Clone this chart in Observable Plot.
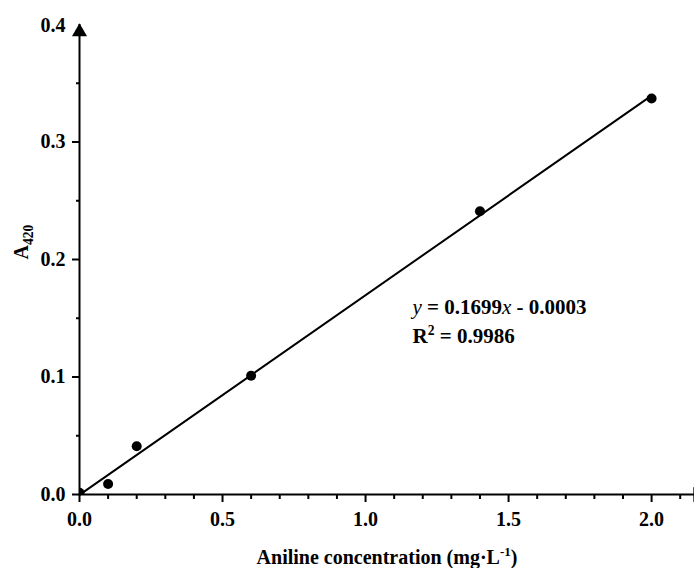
<!DOCTYPE html>
<html><head><meta charset="utf-8">
<script src="https://cdn.jsdelivr.net/npm/d3@7"></script>
<script src="https://cdn.jsdelivr.net/npm/@observablehq/plot@0.6"></script>
<style>body{margin:0;background:#fff}</style>
</head><body><div id="chart"></div>
<script>
// Data
const concentration = [0, 0.1, 0.2, 0.6, 1.4, 2.0];
const absorbance = [0.0015, 0.009, 0.041, 0.101, 0.241, 0.337];
const slope = 0.1699;
const intercept = -0.0003;
const fitRange = [0, 2.0];
const xMajorTicks = [0, 0.5, 1.0, 1.5, 2.0];
const xMinorTicks = [0.1,0.2,0.3,0.4,0.6,0.7,0.8,0.9,1.1,1.2,1.3,1.4,1.6,1.7,1.8,1.9,2.1];
const yMajorTicks = [0, 0.1, 0.2, 0.3];
const yTopTick = [0.4];
const yMinorTicks = [0.05, 0.15, 0.25, 0.35];
const xDomain = [0, 2.15];
const yDomain = [0, 0.4];
const xLabel = "Aniline concentration (mg·L-1)";
const yLabel = "A420";
const eqLine1 = "y = 0.1699x - 0.0003";
const eqLine2 = "R2 = 0.9986";

const points = concentration.map((c, i) => ({x: c, y: absorbance[i]}));
const fit = fitRange.map(x => ({x, y: slope * x + intercept}));

const sw = 2;
const chart = Plot.plot({
  width: 694, height: 568,
  marginLeft: 79, marginRight: 0, marginTop: 24, marginBottom: 74,
  style: {fontFamily: "Liberation Serif", fontSize: "20px", fontWeight: "bold", color: "black", background: "white"},
  x: {domain: xDomain, axis: null},
  y: {domain: yDomain, axis: null},
  marks: [
    Plot.axisX({ticks: xMajorTicks, tickSize: 8, tickPadding: 9, tickFormat: d3.format(".1f"), strokeWidth: sw, label: null}),
    Plot.axisX({ticks: xMinorTicks, tickSize: 5, tickFormat: () => "", strokeWidth: sw, label: null}),
    Plot.axisY({ticks: yMajorTicks, tickSize: 7, tickPadding: 7, tickFormat: d3.format(".1f"), strokeWidth: sw, label: null}),
    Plot.axisY({ticks: yTopTick, tickSize: 0, tickPadding: 14, tickFormat: d3.format(".1f"), label: null, dy: 1}),
    Plot.axisY({ticks: yMinorTicks, tickSize: 3, tickFormat: () => "", strokeWidth: sw, label: null}),
    Plot.ruleY([yDomain[0]], {strokeWidth: sw}),
    Plot.ruleX([xDomain[0]], {strokeWidth: sw}),
    Plot.dot([{x: xDomain[0], y: yDomain[1]}], {x: "x", y: "y", symbol: "triangle", r: 5.6, fill: "black", stroke: null, dy: 7.5}),
    Plot.dot([{x: xDomain[1], y: yDomain[0]}], {x: "x", y: "y", symbol: "triangle", r: 5.6, fill: "black", stroke: null, rotate: 90, dx: 3.2}),
    Plot.line(fit, {x: "x", y: "y", stroke: "black", strokeWidth: 2}),
    Plot.dot(points, {x: "x", y: "y", r: 5, fill: "black", stroke: null, clip: true}),
    Plot.text([eqLine1], {x: 1.164, y: 0.154, text: d => d, textAnchor: "start", lineAnchor: "bottom", fontSize: 21, className: "eq1"}),
    Plot.text([eqLine2], {x: 1.164, y: 0.129, text: d => d, textAnchor: "start", lineAnchor: "bottom", fontSize: 21, className: "eq2"}),
    Plot.text([xLabel], {frameAnchor: "bottom", dy: 69, text: d => d, lineAnchor: "bottom", className: "xlab"}),
    Plot.text([yLabel], {frameAnchor: "left", dx: -52, rotate: -90, text: d => d, lineAnchor: "bottom", className: "ylab"})
  ]
});
document.getElementById("chart").append(chart);

const setHTML = (cls, html) => chart.querySelectorAll(`.${cls} text`).forEach(t => { t.innerHTML = html; });
setHTML("eq1", `<tspan font-style="italic" font-weight="normal">y</tspan> = 0.1699<tspan font-style="italic" font-weight="normal">x</tspan> - 0.0003`);
setHTML("eq2", `R<tspan font-size="65%" dy="-8">2</tspan><tspan dy="8"> = 0.9986</tspan>`);
setHTML("xlab", `Aniline concentration (mg·L<tspan font-size="65%" dy="-8">-1</tspan><tspan dy="8">)</tspan>`);
setHTML("ylab", `A<tspan font-size="68%" dy="5">420</tspan>`);
</script>
</body></html>
